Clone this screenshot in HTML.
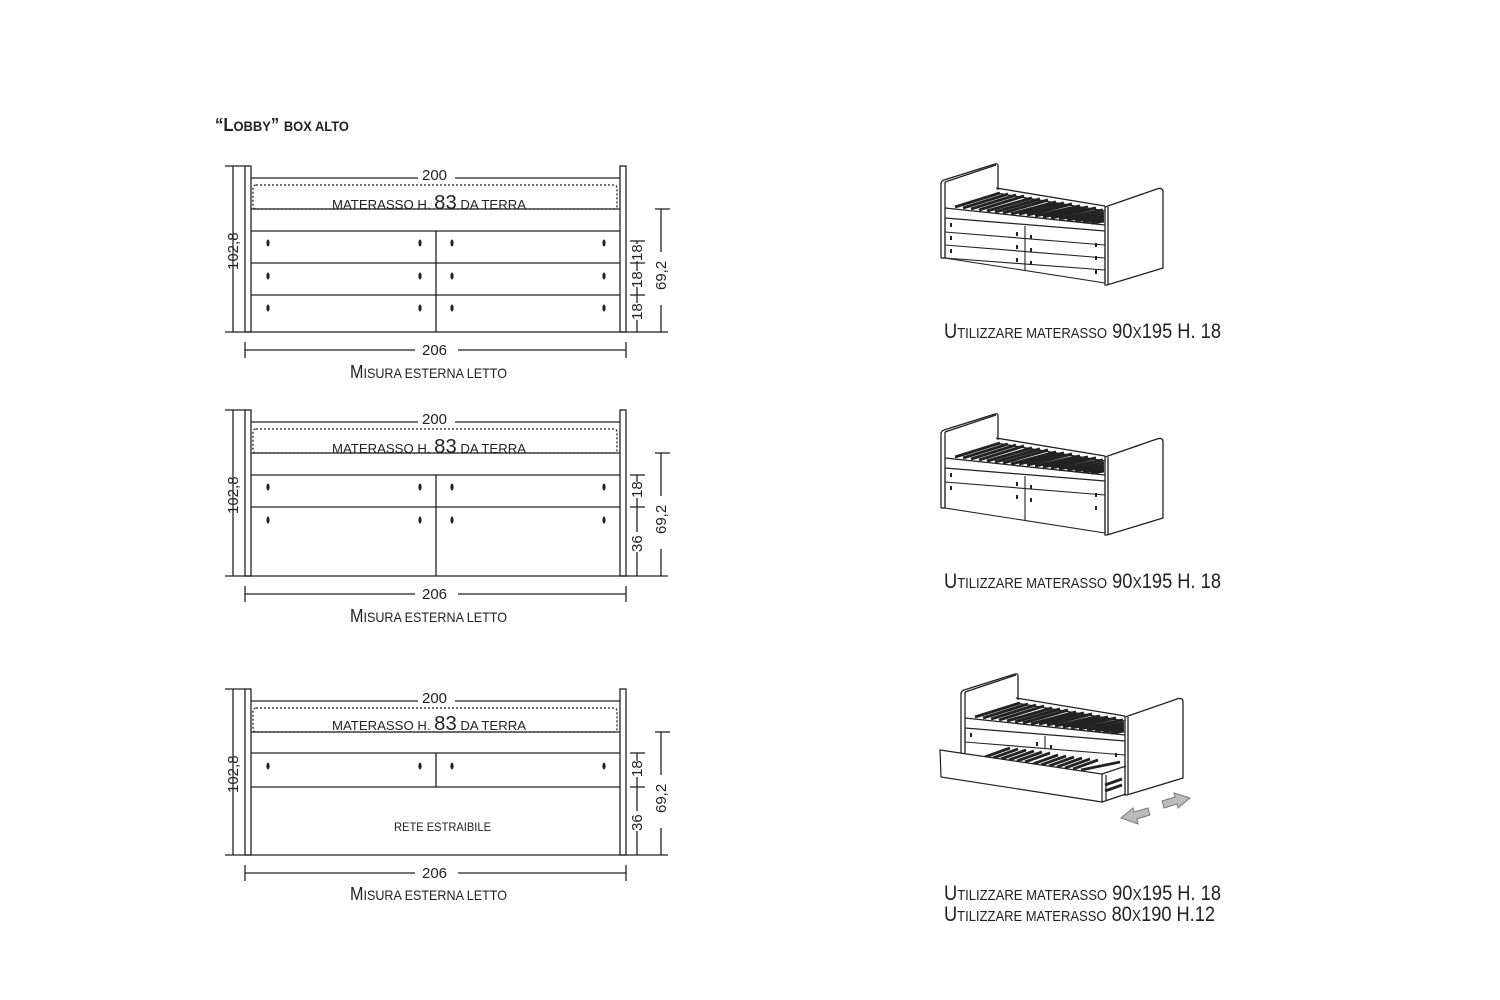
<!DOCTYPE html>
<html><head><meta charset="utf-8"><style>
html,body{margin:0;padding:0;background:#fff}
svg{display:block}
text{font-family:"Liberation Sans",sans-serif;fill:#222}
</style></head><body>
<svg width="1500" height="1000" viewBox="0 0 1500 1000" xmlns="http://www.w3.org/2000/svg">
<defs>
<g id="frame" fill="none" stroke="#222" stroke-width="1.3">
  <path d="M941,258 L941,184 Q941,181 944,180 L995,164 Q998,163 998,166 L998,190" fill="#fff"/>
  <line x1="945" y1="182" x2="945" y2="258"/>
  <line x1="945" y1="182" x2="996" y2="165"/>
  <path d="M996,188 L1105,206 M996,193 L1105,211"/>
  <g stroke="#222" stroke-width="3">
    <line x1="955" y1="207" x2="1000" y2="193"/>
    <line x1="963" y1="208" x2="1008" y2="194"/>
    <line x1="971" y1="209" x2="1016" y2="195"/>
    <line x1="979" y1="210" x2="1024" y2="196"/>
    <line x1="987" y1="211" x2="1032" y2="198"/>
    <line x1="995" y1="212" x2="1040" y2="199"/>
    <line x1="1003" y1="213" x2="1048" y2="200"/>
    <line x1="1011" y1="214" x2="1056" y2="202"/>
    <line x1="1019" y1="214" x2="1064" y2="203"/>
    <line x1="1027" y1="215" x2="1072" y2="204"/>
    <line x1="1035" y1="216" x2="1080" y2="206"/>
    <line x1="1043" y1="217" x2="1088" y2="207"/>
    <line x1="1051" y1="218" x2="1096" y2="208"/>
    <line x1="1059" y1="219" x2="1103" y2="210"/>
    <line x1="1067" y1="220" x2="1104" y2="213"/>
    <line x1="1075" y1="221" x2="1104" y2="216"/>
    <line x1="1083" y1="222" x2="1104" y2="219"/>
    <line x1="1091" y1="223" x2="1104" y2="221"/>
  </g>
  <path d="M945,208 L1105,225 M945,218 L1105,231"/>
  <line x1="941" y1="258" x2="945" y2="258"/>
  <path d="M1105,207 L1157,189 Q1163,187 1163,192 L1163,268 L1107,285 L1105,285 Z" fill="#fff"/>
  <line x1="1108" y1="207" x2="1108" y2="285"/>
</g>
</defs>

<text x="215" y="131" font-size="18" font-weight="bold" textLength="134" lengthAdjust="spacingAndGlyphs">“L<tspan font-size="14">OBBY</tspan>” <tspan font-size="14">BOX ALTO</tspan></text>

<!-- ============ FRONT VIEW 1 ============ -->
<g fill="none" stroke="#222" stroke-width="1.3">
  <rect x="245" y="166" width="6" height="166"/>
  <rect x="620" y="166" width="6" height="166"/>
  <line x1="233" y1="166" x2="233" y2="332"/>
  <line x1="225" y1="166" x2="245" y2="166"/>
  <line x1="225" y1="332" x2="668" y2="332"/>
  <line x1="251" y1="178" x2="418" y2="178"/><line x1="455" y1="178" x2="620" y2="178"/>
  <rect x="253" y="185" width="364" height="24" rx="3" stroke-dasharray="2,2"/>
  <line x1="251" y1="209" x2="620" y2="209"/>
  <line x1="251" y1="231" x2="620" y2="231"/>
  <line x1="251" y1="263" x2="620" y2="263"/>
  <line x1="251" y1="295" x2="620" y2="295"/>
  <line x1="436" y1="231" x2="436" y2="332"/>
  <line x1="637" y1="241" x2="637" y2="332"/>
  <line x1="630" y1="241" x2="645" y2="241"/>
  <line x1="630" y1="263" x2="645" y2="263"/>
  <line x1="630" y1="295" x2="645" y2="295"/>
  <line x1="661" y1="209" x2="661" y2="252"/><line x1="661" y1="305" x2="661" y2="332"/>
  <line x1="655" y1="209" x2="670" y2="209"/>
  <line x1="245" y1="342" x2="245" y2="358"/><line x1="626" y1="342" x2="626" y2="358"/>
  <line x1="245" y1="350" x2="415" y2="350"/><line x1="458" y1="350" x2="626" y2="350"/>
</g>
<g fill="#222">
  <ellipse cx="268" cy="243" rx="1.6" ry="3.5"/><ellipse cx="420" cy="243" rx="1.6" ry="3.5"/><ellipse cx="452" cy="243" rx="1.6" ry="3.5"/><ellipse cx="604" cy="243" rx="1.6" ry="3.5"/>
  <ellipse cx="268" cy="276" rx="1.6" ry="3.5"/><ellipse cx="420" cy="276" rx="1.6" ry="3.5"/><ellipse cx="452" cy="276" rx="1.6" ry="3.5"/><ellipse cx="604" cy="276" rx="1.6" ry="3.5"/>
  <ellipse cx="268" cy="308" rx="1.6" ry="3.5"/><ellipse cx="420" cy="308" rx="1.6" ry="3.5"/><ellipse cx="452" cy="308" rx="1.6" ry="3.5"/><ellipse cx="604" cy="308" rx="1.6" ry="3.5"/>
</g>
<rect x="629" y="244" width="16" height="17" fill="#fff"/><rect x="629" y="271" width="16" height="16" fill="#fff"/><rect x="629" y="303" width="16" height="17" fill="#fff"/>
<text x="422" y="180" font-size="15">200</text>
<text x="332" y="209" font-size="13" textLength="194" lengthAdjust="spacingAndGlyphs">MATERASSO H. <tspan font-size="20">83</tspan> DA TERRA</text>
<text x="422" y="355" font-size="15">206</text>
<text x="350" y="378" font-size="18" textLength="157" lengthAdjust="spacingAndGlyphs">M<tspan font-size="14">ISURA ESTERNA LETTO</tspan></text>
<text transform="translate(238,270) rotate(-90)" font-size="15">102,8</text>
<text transform="translate(642,261) rotate(-90)" font-size="15">18</text>
<text transform="translate(642,288) rotate(-90)" font-size="15">18</text>
<text transform="translate(642,320) rotate(-90)" font-size="15">18</text>
<text transform="translate(666,290) rotate(-90)" font-size="15">69,2</text>

<!-- ============ FRONT VIEW 2 ============ -->
<g fill="none" stroke="#222" stroke-width="1.3">
  <rect x="245" y="410" width="6" height="166"/>
  <rect x="620" y="410" width="6" height="166"/>
  <line x1="233" y1="410" x2="233" y2="576"/>
  <line x1="225" y1="410" x2="245" y2="410"/>
  <line x1="225" y1="576" x2="668" y2="576"/>
  <line x1="251" y1="422" x2="418" y2="422"/><line x1="455" y1="422" x2="620" y2="422"/>
  <rect x="253" y="429" width="364" height="24" rx="3" stroke-dasharray="2,2"/>
  <line x1="251" y1="453" x2="620" y2="453"/>
  <line x1="251" y1="475" x2="620" y2="475"/>
  <line x1="251" y1="507" x2="620" y2="507"/>
  <line x1="436" y1="475" x2="436" y2="576"/>
  <line x1="637" y1="475" x2="637" y2="576"/>
  <line x1="630" y1="475" x2="645" y2="475"/>
  <line x1="630" y1="507" x2="645" y2="507"/>
  <line x1="661" y1="453" x2="661" y2="496"/><line x1="661" y1="549" x2="661" y2="576"/>
  <line x1="655" y1="453" x2="670" y2="453"/>
  <line x1="245" y1="586" x2="245" y2="602"/><line x1="626" y1="586" x2="626" y2="602"/>
  <line x1="245" y1="594" x2="415" y2="594"/><line x1="458" y1="594" x2="626" y2="594"/>
</g>
<g fill="#222">
  <ellipse cx="268" cy="487" rx="1.6" ry="3.5"/><ellipse cx="420" cy="487" rx="1.6" ry="3.5"/><ellipse cx="452" cy="487" rx="1.6" ry="3.5"/><ellipse cx="604" cy="487" rx="1.6" ry="3.5"/>
  <ellipse cx="268" cy="520" rx="1.6" ry="3.5"/><ellipse cx="420" cy="520" rx="1.6" ry="3.5"/><ellipse cx="452" cy="520" rx="1.6" ry="3.5"/><ellipse cx="604" cy="520" rx="1.6" ry="3.5"/>
</g>
<rect x="629" y="482" width="16" height="16" fill="#fff"/><rect x="629" y="532" width="16" height="20" fill="#fff"/>
<text x="422" y="424" font-size="15">200</text>
<text x="332" y="453" font-size="13" textLength="194" lengthAdjust="spacingAndGlyphs">MATERASSO H. <tspan font-size="20">83</tspan> DA TERRA</text>
<text x="422" y="599" font-size="15">206</text>
<text x="350" y="622" font-size="18" textLength="157" lengthAdjust="spacingAndGlyphs">M<tspan font-size="14">ISURA ESTERNA LETTO</tspan></text>
<text transform="translate(238,514) rotate(-90)" font-size="15">102,8</text>
<text transform="translate(642,498) rotate(-90)" font-size="15">18</text>
<text transform="translate(642,552) rotate(-90)" font-size="15">36</text>
<text transform="translate(666,534) rotate(-90)" font-size="15">69,2</text>

<!-- ============ FRONT VIEW 3 ============ -->
<g fill="none" stroke="#222" stroke-width="1.3">
  <rect x="245" y="689" width="6" height="166"/>
  <rect x="620" y="689" width="6" height="166"/>
  <line x1="233" y1="689" x2="233" y2="855"/>
  <line x1="225" y1="689" x2="245" y2="689"/>
  <line x1="225" y1="855" x2="668" y2="855"/>
  <line x1="251" y1="701" x2="418" y2="701"/><line x1="455" y1="701" x2="620" y2="701"/>
  <rect x="253" y="708" width="364" height="24" rx="3" stroke-dasharray="2,2"/>
  <line x1="251" y1="732" x2="620" y2="732"/>
  <line x1="251" y1="753" x2="620" y2="753"/>
  <line x1="251" y1="787" x2="620" y2="787"/>
  <line x1="436" y1="753" x2="436" y2="787"/>
  <line x1="637" y1="753" x2="637" y2="855"/>
  <line x1="630" y1="753" x2="645" y2="753"/>
  <line x1="630" y1="787" x2="645" y2="787"/>
  <line x1="661" y1="732" x2="661" y2="775"/><line x1="661" y1="828" x2="661" y2="855"/>
  <line x1="655" y1="732" x2="670" y2="732"/>
  <line x1="245" y1="865" x2="245" y2="881"/><line x1="626" y1="865" x2="626" y2="881"/>
  <line x1="245" y1="873" x2="415" y2="873"/><line x1="458" y1="873" x2="626" y2="873"/>
</g>
<g fill="#222">
  <ellipse cx="268" cy="766" rx="1.6" ry="3.5"/><ellipse cx="420" cy="766" rx="1.6" ry="3.5"/><ellipse cx="452" cy="766" rx="1.6" ry="3.5"/><ellipse cx="604" cy="766" rx="1.6" ry="3.5"/>
</g>
<rect x="629" y="761" width="16" height="16" fill="#fff"/><rect x="629" y="811" width="16" height="20" fill="#fff"/>
<text x="422" y="703" font-size="15">200</text>
<text x="332" y="730" font-size="13" textLength="194" lengthAdjust="spacingAndGlyphs">MATERASSO H. <tspan font-size="20">83</tspan> DA TERRA</text>
<text x="394" y="831" font-size="12" textLength="97" lengthAdjust="spacingAndGlyphs">RETE ESTRAIBILE</text>
<text x="422" y="878" font-size="15">206</text>
<text x="350" y="900" font-size="18" textLength="157" lengthAdjust="spacingAndGlyphs">M<tspan font-size="14">ISURA ESTERNA LETTO</tspan></text>
<text transform="translate(238,793) rotate(-90)" font-size="15">102,8</text>
<text transform="translate(642,777) rotate(-90)" font-size="15">18</text>
<text transform="translate(642,831) rotate(-90)" font-size="15">36</text>
<text transform="translate(666,813) rotate(-90)" font-size="15">69,2</text>

<!-- ============ ISO BED 1 ============ -->
<use href="#frame"/>
<g fill="none" stroke="#222" stroke-width="1.1">
  <path d="M945,218 L945,258 L1105,283 L1105,231"/>
  <line x1="945" y1="232" x2="1105" y2="245"/>
  <line x1="945" y1="245" x2="1105" y2="258"/>
  <line x1="945" y1="258" x2="1105" y2="270"/>
  <line x1="1025" y1="226" x2="1025" y2="270"/>
</g>
<g fill="#222">
  <rect x="950" y="223" width="2" height="4"/><rect x="950" y="236" width="2" height="4"/><rect x="950" y="249" width="2" height="4"/>
  <rect x="1016" y="232" width="2" height="4"/><rect x="1016" y="245" width="2" height="4"/><rect x="1016" y="258" width="2" height="4"/>
  <rect x="1030" y="235" width="2" height="4"/><rect x="1030" y="248" width="2" height="4"/><rect x="1030" y="261" width="2" height="4"/>
  <rect x="1095" y="243" width="2" height="4"/><rect x="1095" y="256" width="2" height="4"/><rect x="1095" y="270" width="2" height="4"/>
</g>
<text x="944" y="338" font-size="21" textLength="277" lengthAdjust="spacingAndGlyphs">U<tspan font-size="15">TILIZZARE MATERASSO</tspan> 90<tspan font-size="16">X</tspan>195 H. 18</text>

<!-- ============ ISO BED 2 ============ -->
<g transform="translate(0,250)">
<use href="#frame"/>
<g fill="none" stroke="#222" stroke-width="1.1">
  <path d="M945,218 L945,258 L1105,283 L1105,231"/>
  <line x1="945" y1="232" x2="1105" y2="245"/>
  <line x1="1025" y1="226" x2="1025" y2="270"/>
</g>
<g fill="#222">
  <rect x="950" y="223" width="2" height="4"/><rect x="950" y="236" width="2" height="4"/>
  <rect x="1016" y="232" width="2" height="4"/><rect x="1016" y="245" width="2" height="4"/>
  <rect x="1030" y="235" width="2" height="4"/><rect x="1030" y="248" width="2" height="4"/>
  <rect x="1095" y="243" width="2" height="4"/><rect x="1095" y="256" width="2" height="4"/>
</g>
</g>
<text x="944" y="588" font-size="21" textLength="277" lengthAdjust="spacingAndGlyphs">U<tspan font-size="15">TILIZZARE MATERASSO</tspan> 90<tspan font-size="16">X</tspan>195 H. 18</text>

<!-- ============ ISO BED 3 ============ -->
<g transform="translate(20,510)">
<use href="#frame"/>
<g fill="none" stroke="#222" stroke-width="1.1">
  <path d="M945,218 L945,240 M1105,231 L1105,262"/>
  <line x1="945" y1="232" x2="1105" y2="245"/>
  <line x1="1025" y1="226" x2="1025" y2="238"/>
</g>
<g fill="#222">
  <rect x="950" y="223" width="2" height="4"/><rect x="1016" y="232" width="2" height="4"/>
  <rect x="1030" y="235" width="2" height="4"/><rect x="1095" y="243" width="2" height="4"/>
</g>
</g>
<g fill="none" stroke="#222" stroke-width="1.2">
  <g stroke="#222" stroke-width="2.8">
    <line x1="985" y1="757" x2="1010" y2="748"/><line x1="993" y1="758" x2="1018" y2="749"/>
    <line x1="1001" y1="759" x2="1026" y2="750"/><line x1="1009" y1="760" x2="1034" y2="751"/>
    <line x1="1017" y1="761" x2="1042" y2="752"/><line x1="1025" y1="762" x2="1050" y2="753"/>
    <line x1="1033" y1="764" x2="1058" y2="755"/><line x1="1041" y1="765" x2="1066" y2="756"/>
    <line x1="1049" y1="766" x2="1074" y2="757"/><line x1="1057" y1="767" x2="1082" y2="758"/>
    <line x1="1065" y1="768" x2="1090" y2="759"/><line x1="1073" y1="769" x2="1098" y2="760"/>
    <line x1="1081" y1="770" x2="1120" y2="762"/><line x1="1105" y1="785" x2="1122" y2="779"/>
    <line x1="1105" y1="791" x2="1122" y2="785"/>
  </g>
  <path d="M940,750 L1102,774 L1102,802 L941,777 Z" fill="#fff"/>
  <path d="M1102,774 L1126,766 M1106,775 L1106,800 M1102,802 L1126,794"/>
</g>
<g fill="#bbb" stroke="#777" stroke-width="1">
  <path d="M1121,818 L1133,808 L1134,812 L1148,808 L1150,815 L1137,819 L1138,824 Z"/>
  <path d="M1190,798 L1178,808 L1177,804 L1164,808 L1162,801 L1175,797 L1174,793 Z"/>
</g>
<text x="944" y="900" font-size="21" textLength="277" lengthAdjust="spacingAndGlyphs">U<tspan font-size="15">TILIZZARE MATERASSO</tspan> 90<tspan font-size="16">X</tspan>195 H. 18</text>
<text x="944" y="921" font-size="21" textLength="271" lengthAdjust="spacingAndGlyphs">U<tspan font-size="15">TILIZZARE MATERASSO</tspan> 80<tspan font-size="16">X</tspan>190 H.12</text>
</svg>
</body></html>
